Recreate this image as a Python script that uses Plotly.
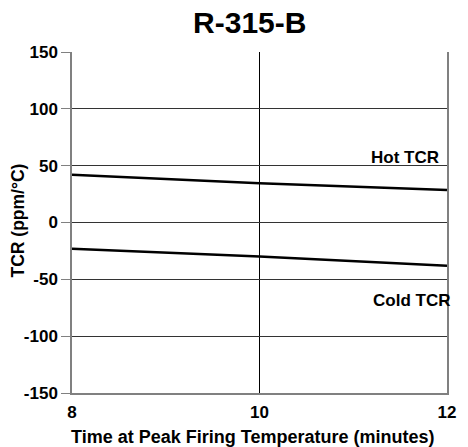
import plotly.graph_objects as go

# Firing time (minutes) and TCR values (ppm/°C)
time_min = [8, 10, 12]
hot_tcr = [42, 34.5, 28.6]
cold_tcr = [-23, -30, -38]

x_ticks = [8, 10, 12]
y_ticks = [-150, -100, -50, 0, 50, 100, 150]

FONT = "Liberation Sans, Arial, sans-serif"

fig = go.Figure()
fig.add_trace(go.Scatter(x=time_min, y=hot_tcr, mode="lines",
                         line=dict(color="black", width=2.5), name="Hot TCR"))
fig.add_trace(go.Scatter(x=time_min, y=cold_tcr, mode="lines",
                         line=dict(color="black", width=2.5), name="Cold TCR"))

fig.update_layout(
    width=468, height=447,
    margin=dict(l=72, r=14, t=52, b=54),
    paper_bgcolor="white", plot_bgcolor="white",
    showlegend=False,
    font=dict(family=FONT, color="black", size=16, weight="bold"),
    title=dict(text="R-315-B", x=0.474, xref="paper", xanchor="center",
               y=1 - 22.5 / 447, yref="container", yanchor="middle",
               font=dict(family=FONT, size=30, weight="bold", color="black")),
)

fig.update_xaxes(
    range=[8, 12], tickvals=x_ticks, ticktext=[str(v) for v in x_ticks],
    showgrid=True, gridcolor="#000000", gridwidth=1,
    showline=True, linecolor="#808080", linewidth=1.5, mirror=False,
    ticks="", zeroline=False, ticklabelstandoff=3,
    tickfont=dict(family=FONT, size=17, weight="bold", color="black"),
)
fig.update_yaxes(
    range=[-150, 150], tickvals=y_ticks, ticktext=[str(v) for v in y_ticks],
    showgrid=True, gridcolor="#333333", gridwidth=1,
    showline=True, linecolor="#808080", linewidth=1.5, mirror=True,
    ticks="outside", ticklen=9, tickcolor="#808080", tickwidth=1,
    zeroline=False,
    tickfont=dict(family=FONT, size=17, weight="bold", color="black"),
)

# Axis titles and series labels
fig.add_annotation(text="Time at Peak Firing Temperature (minutes)",
                   xref="paper", yref="paper", x=0.482, y=(393 - 437) / 341,
                   xanchor="center", yanchor="middle", showarrow=False,
                   font=dict(family=FONT, size=18, weight="bold", color="black"))
fig.add_annotation(text="TCR (ppm/°C)", textangle=-90,
                   xref="paper", yref="paper", x=(16.5 - 72) / 382, y=(393 - 221) / 341,
                   xanchor="center", yanchor="middle", showarrow=False,
                   font=dict(family=FONT, size=17.5, weight="bold", color="black"))
fig.add_annotation(text="Hot TCR", x=12, y=57.3, xref="x", yref="y",
                   xanchor="right", yanchor="middle", xshift=-6, showarrow=False,
                   font=dict(family=FONT, size=17, weight="bold", color="black"))
fig.add_annotation(text="Cold TCR", x=12, y=-68.8, xref="x", yref="y",
                   xanchor="right", yanchor="middle", xshift=5, showarrow=False,
                   font=dict(family=FONT, size=17, weight="bold", color="black"))

fig.write_html("out.html")
